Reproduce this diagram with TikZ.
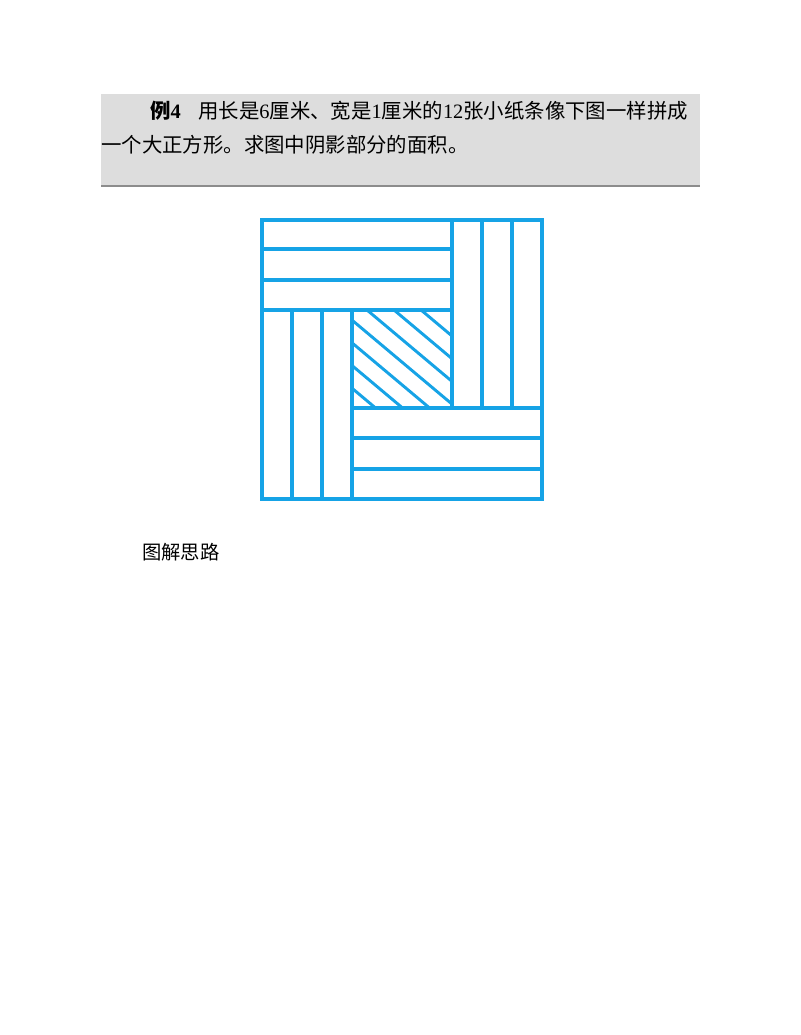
\documentclass[tikz,border=0pt]{standalone}
\usepackage{fontspec}
\setmainfont{Liberation Serif}
\newfontfamily\cjk{Noto Sans CJK SC}
\definecolor{stripblue}{RGB}{22,163,230}
\definecolor{boxgray}{RGB}{221,221,221}
\definecolor{rulegray}{RGB}{140,140,140}

\begin{document}
\begin{tikzpicture}[x=0.75pt,y=-0.75pt,
  strip/.style={draw=stripblue,line width=2.3pt},
  frame/.style={draw=stripblue,line width=2.6pt},
  hatch/.style={draw=stripblue,line width=2.2pt},
  txt/.style={anchor=base west,inner sep=0pt,font=\fontsize{15.3pt}{18pt}\selectfont}]
	\useasboundingbox (0,0) rectangle (800,1035);

	% task box
	\fill[boxgray] (101,94) rectangle (700,186);
	\draw[rulegray,line width=1.5pt] (101,186) -- (700,186);
	\node (task1) [txt] at (150,118) {{\cjk\bfseries 例}{\bfseries 4}\hspace{13pt}{\cjk 用长是}6{\cjk 厘米、宽是}1{\cjk 厘米的}12{\cjk 张小纸条像下图一样拼成}};
	\node (task2) [txt] at (101,152) {\cjk 一个大正方形。求图中阴影部分的面积。};

	% shaded square
	\begin{scope}
		\clip (352,310) rectangle (452,408);
		\foreach \b in {-58,-35.3,-12.6,10.1,32.8,55.5,78.2}
			\draw[hatch] (352,310+\b) -- ++(100,84);
	\end{scope}

	% strips
	\foreach \ya/\yb in {220/249,249/280,280/310}
		\draw[strip] (262,\ya) rectangle (452,\yb);
	\foreach \xa/\xb in {452/482,482/512,512/542}
		\draw[strip] (\xa,220) rectangle (\xb,408);
	\foreach \ya/\yb in {408/438,438/469,469/499}
		\draw[strip] (352,\ya) rectangle (542,\yb);
	\foreach \xa/\xb in {262/292,292/322,322/352}
		\draw[strip] (\xa,310) rectangle (\xb,499);
	\draw[strip] (352,310) rectangle (452,408);
	\draw[frame] (262,220) rectangle (542,499);

	\node (hint) [txt,font=\cjk\fontsize{14.5pt}{17pt}\selectfont] at (142,559) {图解思路};
\end{tikzpicture}
\end{document}
